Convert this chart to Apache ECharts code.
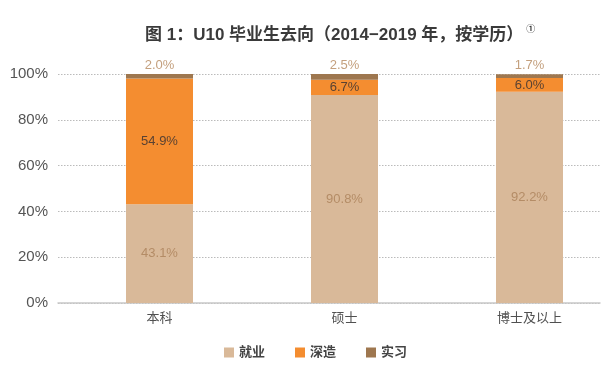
<!DOCTYPE html>
<html><head><meta charset="utf-8">
<script src="https://cdn.jsdelivr.net/npm/echarts@6/dist/echarts.min.js"></script>
<style>html,body{margin:0;padding:0;background:#fff}#c{width:605px;height:366px}</style>
</head><body><div id="c"></div>
<script>
const categories = ['本科', '硕士', '博士及以上'];
const employment = [43.1, 90.8, 92.2];
const furtherStudy = [54.9, 6.7, 6.0];
const internship = [2.0, 2.5, 1.7];
const yTicks = [0, 20, 40, 60, 80, 100];

const chart = echarts.init(document.getElementById('c'), null, {renderer: 'canvas'});
const font = '"Liberation Sans", "Noto Sans CJK SC", sans-serif';
const gridTop = 74, gridBottom = 63;
chart.setOption({
  animation: false,
  textStyle: {fontFamily: font},
  title: {
    text: '{t|图 1：U10 毕业生去向（2014−2019 年，按学历）}{s|①}',
    left: 140, top: 20,
    textStyle: {
      rich: {
        t: {fontSize: 17, fontWeight: 'bold', color: '#3a3a3a', fontFamily: font},
        s: {fontSize: 9, color: '#3a3a3a', verticalAlign: 'top', padding: [0, 0, 12, 3], fontFamily: font}
      }
    }
  },
  legend: {
    bottom: 2, left: 219,
    itemWidth: 10, itemHeight: 10, itemGap: 30,
    icon: 'rect',
    textStyle: {fontSize: 13, fontWeight: 'bold', color: '#444', fontFamily: font},
    data: ['就业', '深造', '实习']
  },
  grid: [
    {left: 58, right: 5, top: gridTop, bottom: gridBottom, outerBoundsMode: 'none'},
    {left: 67, width: 555, top: gridTop, bottom: gridBottom, outerBoundsMode: 'none'}
  ],
  xAxis: [
    {type: 'category', gridIndex: 0, data: categories, axisLine: {lineStyle: {color: '#c8c8c8', width: 1.5}},
     axisTick: {show: false}, axisLabel: {show: false}},
    {type: 'category', gridIndex: 1, data: categories, axisLine: {show: false}, axisTick: {show: false},
     axisLabel: {fontSize: 13, color: '#505050', margin: 9, fontFamily: font}}
  ],
  yAxis: [
    {type: 'value', gridIndex: 0, min: 0, max: 100, interval: 20,
     axisLabel: {formatter: v => yTicks.includes(v) ? v + '%' : '', fontSize: 15, color: '#555', margin: 10, fontFamily: '"Liberation Sans", sans-serif'},
     axisLine: {show: false}, axisTick: {show: false},
     splitLine: {lineStyle: {type: [1.5, 1.5], color: '#bbbbbb', width: 1}}},
    {type: 'value', gridIndex: 1, min: 0, max: 100, show: false}
  ],
  series: [
    {name: '就业', type: 'bar', stack: 's', xAxisIndex: 1, yAxisIndex: 1, barWidth: 67, data: employment,
     itemStyle: {color: '#D9B999'},
     label: {show: true, position: 'inside', formatter: p => p.value.toFixed(1) + '%', color: '#B48C66', fontSize: 13, fontFamily: '"Liberation Sans", sans-serif'}},
    {name: '深造', type: 'bar', stack: 's', xAxisIndex: 1, yAxisIndex: 1, barWidth: 67, data: furtherStudy,
     itemStyle: {color: '#F48D30'},
     label: {show: true, position: 'inside', formatter: p => p.value.toFixed(1) + '%', color: '#5a4232', fontSize: 13, fontFamily: '"Liberation Sans", sans-serif'}},
    {name: '实习', type: 'bar', stack: 's', xAxisIndex: 1, yAxisIndex: 1, barWidth: 67, data: internship,
     itemStyle: {color: '#9E774F'},
     label: {show: true, position: 'top', distance: 2, formatter: p => p.value.toFixed(1) + '%', color: '#C4A07E', fontSize: 13, fontFamily: '"Liberation Sans", sans-serif'}}
  ]
});
</script></body></html>
